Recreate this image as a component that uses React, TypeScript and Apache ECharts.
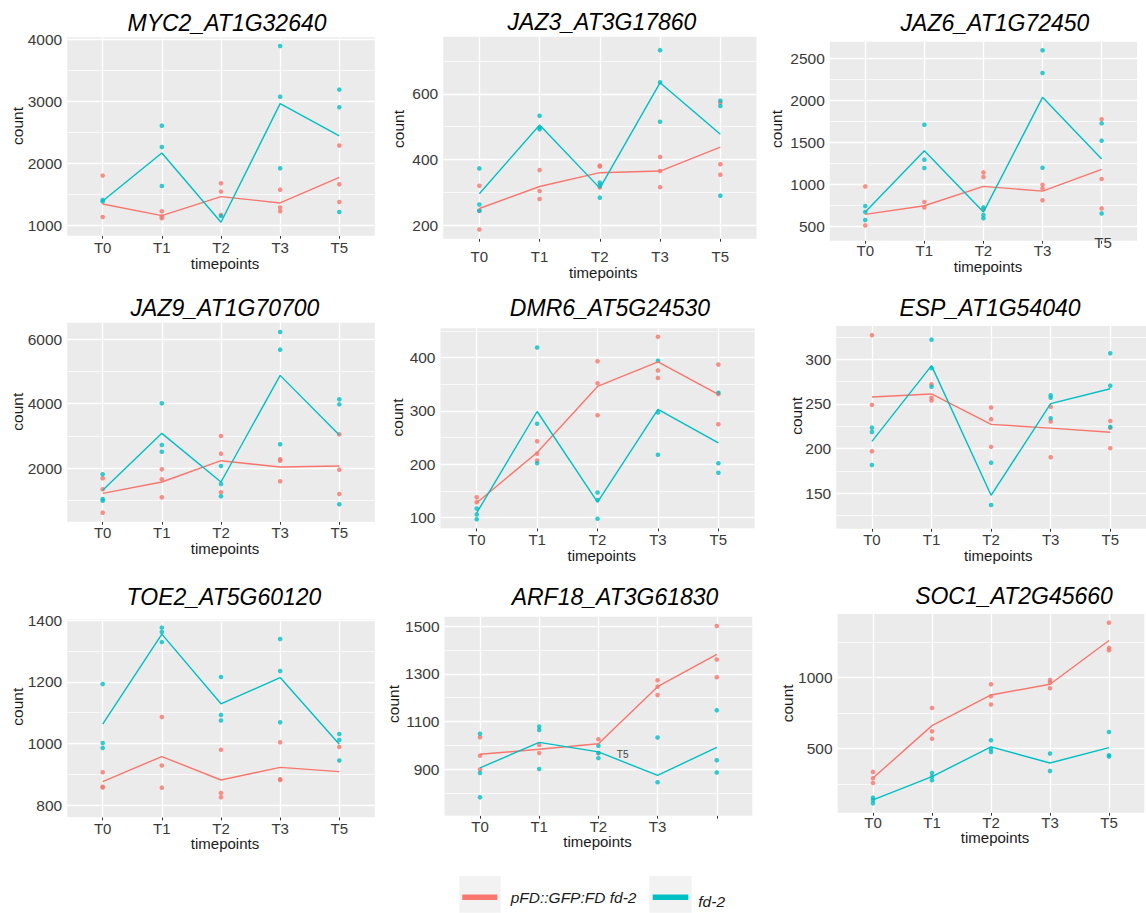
import React, { useEffect, useRef } from 'react';
import * as echarts from 'echarts';

const timepoints = ['T0', 'T1', 'T2', 'T3', 'T5'];
const groupNames = ['pFD::GFP:FD fd-2', 'fd-2'];
const RED = '#F8766D';
const TEAL = '#00BFC4';
const FONT = '"Liberation Sans", Arial, Helvetica, sans-serif';

// ---- MYC2 ----
const myc2RedPts = [[1801, 1134], [1226, 1113, 1140], [1677, 1543, 1167], [1575, 1285, 1226], [2285, 1661, 1376]];
const myc2BluePts = [[1409, 1382], [2607, 2263, 1634], [1150], [3892, 3075, 1919], [3188, 2903, 1215]];
const myc2RedLine = [1344, 1156, 1462, 1360, 1774];
const myc2BlueLine = [1392, 2167, 1048, 2962, 2441];
const myc2Ticks = [1000, 2000, 3000, 4000];
const myc2Minor = [1500, 2500, 3500];

// ---- JAZ3 ----
const jaz3RedPts = [[320, 244, 187], [368, 304, 280], [382, 379, 315], [408, 365, 316], [573, 386, 354]];
const jaz3BluePts = [[373, 263, 244], [533, 496, 492], [330, 322, 284], [733, 635, 515], [579, 563, 290]];
const jaz3RedLine = [251, 318, 360, 365, 438];
const jaz3BlueLine = [296, 505, 313, 634, 477];
const jaz3Ticks = [200, 400, 600];
const jaz3Minor = [300, 500, 700];

// ---- JAZ6 ----
const jaz6RedPts = [[974, 508], [787, 723], [1141, 1086, 700], [994, 950, 807], [1775, 1062, 711]];
const jaz6BluePts = [[739, 667, 572], [1711, 1293, 1193], [723, 631, 592], [2600, 2329, 1197], [1727, 1520, 651]];
const jaz6RedLine = [639, 743, 974, 918, 1177];
const jaz6BlueLine = [667, 1400, 667, 2038, 1301];
const jaz6Ticks = [500, 1000, 1500, 2000, 2500];
const jaz6Minor = [750, 1250, 1750, 2250];

// ---- JAZ9 ----
const jaz9RedPts = [[1691, 1351, 629], [1969, 1660, 1103], [3000, 2454, 1258], [2278, 2237, 1598], [3052, 1959, 1206]];
const jaz9BluePts = [[1814, 1052, 1000], [4010, 2722, 2515], [2072, 1515, 1134], [6216, 5670, 2742], [4134, 3979, 887]];
const jaz9RedLine = [1227, 1577, 2237, 2041, 2072];
const jaz9BlueLine = [1320, 3082, 1577, 4876, 3031];
const jaz9Ticks = [2000, 4000, 6000];
const jaz9Minor = [1000, 3000, 5000];

// ---- DMR6 ----
const dmr6RedPts = [[138, 129], [243, 220, 207], [393, 352, 292], [439, 376, 362], [387, 332, 275]];
const dmr6BluePts = [[117, 106, 97], [419, 276, 202], [147, 133, 98], [394, 297, 218], [334, 202, 184]];
const dmr6RedLine = [128, 222, 346, 392, 331];
const dmr6BlueLine = [109, 299, 129, 303, 240];
const dmr6Ticks = [100, 200, 300, 400];
const dmr6Minor = [150, 250, 350, 450];

// ---- ESP ----
const espRedPts = [[327, 249, 197], [272, 257, 254], [246, 233, 202], [247, 230.5, 190.5], [231, 223.5, 200.4]];
const espBluePts = [[223.5, 218.7, 181.7], [322, 290, 269.4], [184.3, 136.9], [259.7, 257, 234], [306.7, 270.5, 224.3]];
const espRedLine = [257.8, 261.2, 227.2, 223, 218.3];
const espBlueLine = [208.2, 292.9, 147.8, 250.4, 267];
const espTicks = [150, 200, 250, 300];
const espMinor = [125, 175, 225, 275, 325];

// ---- TOE2 ----
const toe2RedPts = [[907, 860, 858], [1086, 929, 857], [980, 840, 826], [1004, 884, 882], [989]];
const toe2BluePts = [[1193, 1002, 986], [1376, 1362, 1329], [1216, 1093, 1075], [1339, 1235, 1069], [1031, 1012, 945]];
const toe2RedLine = [877, 958, 882, 923, 909];
const toe2BlueLine = [1063, 1355, 1129, 1214, 998];
const toe2Ticks = [800, 1000, 1200, 1400];
const toe2Minor = [900, 1100, 1300];

// ---- ARF18 ----
const arf18RedPts = [[1034, 957, 899], [1002, 968], [1026, 968], [1273, 1246, 1211], [1500, 1360, 1286]];
const arf18BluePts = [[1049, 885, 783], [1079, 1065, 901], [999, 968, 947], [1033, 846], [1147, 938, 887]];
const arf18RedLine = [963, 984, 1007, 1246, 1381];
const arf18BlueLine = [906, 1013, 973, 875, 992];
const arf18Ticks = [900, 1100, 1300, 1500];
const arf18Minor = [800, 1000, 1200, 1400];

// ---- SOC1 ----
const soc1RedPts = [[336, 291, 258], [786, 622, 570], [953, 869, 810], [984, 965, 925], [1387, 1209, 1193]];
const soc1BluePts = [[155, 139, 115], [329, 303, 277], [559, 498, 477], [465, 343], [617, 453, 444]];
const soc1RedLine = [293, 662, 878, 953, 1261];
const soc1BlueLine = [139, 303, 512, 399, 507];
const soc1Ticks = [500, 1000];
const soc1Minor = [250, 750, 1250];

type Panel = {
  title: string;
  red: number[][];
  blue: number[][];
  redLine: number[];
  blueLine: number[];
  ticks: number[];
  minor: number[];
  yMin: number;
  yMax: number;
  hideLast?: boolean;
  box: { left: number; top: number; width: number; height: number };
  titlePos: [number, number];
  countPos: [number, number];
  tpPos: [number, number];
  labelMargin: number;
};

const panels: Panel[] = [
  { title: 'MYC2_AT1G32640', red: myc2RedPts, blue: myc2BluePts, redLine: myc2RedLine, blueLine: myc2BlueLine, ticks: myc2Ticks, minor: myc2Minor, yMin: 832, yMax: 4032,
    box: { left: 67.2, top: 37.3, width: 307.6, height: 198.4 }, titlePos: [227, 23], countPos: [17.5, 126], tpPos: [225, 263], labelMargin: 4.5 },
  { title: 'JAZ3_AT3G17860', red: jaz3RedPts, blue: jaz3BluePts, redLine: jaz3RedLine, blueLine: jaz3BlueLine, ticks: jaz3Ticks, minor: jaz3Minor, yMin: 159, yMax: 774,
    box: { left: 443.2, top: 36.7, width: 313.3, height: 202 }, titlePos: [602, 21.7], countPos: [398.7, 129], tpPos: [603.3, 272.3], labelMargin: 10.5 },
  { title: 'JAZ6_AT1G72450', red: jaz6RedPts, blue: jaz6BluePts, redLine: jaz6RedLine, blueLine: jaz6BlueLine, ticks: jaz6Ticks, minor: jaz6Minor, yMin: 325, yMax: 2703, hideLast: true,
    box: { left: 829.8, top: 41.7, width: 307.3, height: 199 }, titlePos: [995, 23.3], countPos: [776, 129], tpPos: [988, 266.3], labelMargin: 2 },
  { title: 'JAZ9_AT1G70700', red: jaz9RedPts, blue: jaz9BluePts, redLine: jaz9RedLine, blueLine: jaz9BlueLine, ticks: jaz9Ticks, minor: jaz9Minor, yMin: 350, yMax: 6505,
    box: { left: 67.2, top: 322.7, width: 307.6, height: 199 }, titlePos: [225, 308.3], countPos: [17.5, 411.7], tpPos: [225, 548], labelMargin: 3.5 },
  { title: 'DMR6_AT5G24530', red: dmr6RedPts, blue: dmr6BluePts, redLine: dmr6RedLine, blueLine: dmr6BlueLine, ticks: dmr6Ticks, minor: dmr6Minor, yMin: 80, yMax: 455,
    box: { left: 440.5, top: 328.3, width: 314.1, height: 200 }, titlePos: [610, 308.3], countPos: [397, 417.5], tpPos: [601.7, 555.6], labelMargin: 3.5 },
  { title: 'ESP_AT1G54040', red: espRedPts, blue: espBluePts, redLine: espRedLine, blueLine: espBlueLine, ticks: espTicks, minor: espMinor, yMin: 110.4, yMax: 337.3,
    box: { left: 836.2, top: 326, width: 316.7, height: 202.7 }, titlePos: [990, 308], countPos: [796.7, 415.8], tpPos: [998.3, 555.6], labelMargin: 3.1 },
  { title: 'TOE2_AT5G60120', red: toe2RedPts, blue: toe2BluePts, redLine: toe2RedLine, blueLine: toe2BlueLine, ticks: toe2Ticks, minor: toe2Minor, yMin: 761, yMax: 1403,
    box: { left: 67.2, top: 619.3, width: 307.6, height: 198 }, titlePos: [224, 597.3], countPos: [17, 706.7], tpPos: [225, 843.4], labelMargin: 3.2 },
  { title: 'ARF18_AT3G61830', red: arf18RedPts, blue: arf18BluePts, redLine: arf18RedLine, blueLine: arf18BlueLine, ticks: arf18Ticks, minor: arf18Minor, yMin: 706, yMax: 1539, hideLast: true,
    box: { left: 444.5, top: 616.7, width: 307.8, height: 199 }, titlePos: [615, 596.7], countPos: [393.8, 704], tpPos: [597.5, 841.6], labelMargin: 3.2 },
  { title: 'SOC1_AT2G45660', red: soc1RedPts, blue: soc1BluePts, redLine: soc1RedLine, blueLine: soc1BlueLine, ticks: soc1Ticks, minor: soc1Minor, yMin: 49, yMax: 1448,
    box: { left: 837.6, top: 614, width: 306.8, height: 198.7 }, titlePos: [1014, 596], countPos: [787, 703.3], tpPos: [995, 837.9], labelMargin: 2.1 },
];

const catIdx = timepoints.map((_, i) => i);
const TICK_COLOR = '#333333';
const LABEL_COLOR = '#3a3a3a';

function flatten(pts: number[][]) {
  const out: number[][] = [];
  pts.forEach((vals, ci) => vals.forEach((v) => out.push([ci, v])));
  return out;
}

function buildOption() {
  const grid: any[] = [];
  const xAxis: any[] = [];
  const yAxis: any[] = [];
  const series: any[] = [];
  const graphic: any[] = [];

  panels.forEach((p, i) => {
    grid.push({ ...p.box, show: true, backgroundColor: '#EBEBEB', borderWidth: 0, containLabel: false });
    xAxis.push({
      gridIndex: i, type: 'value', min: -0.6, max: 4.6,
      axisLine: { show: false }, splitLine: { show: false },
      axisTick: { show: true, customValues: catIdx, length: 3, lineStyle: { color: TICK_COLOR, width: 1 } },
      axisLabel: {
        customValues: catIdx, margin: p.labelMargin, fontSize: 15, color: LABEL_COLOR, fontFamily: FONT,
        formatter: (v: number) => { const k = Math.round(v); if (p.hideLast && k === 4) return ''; return timepoints[k] ?? ''; },
      },
    });
    yAxis.push({
      gridIndex: i, type: 'value', min: p.yMin, max: p.yMax,
      axisLine: { show: false }, splitLine: { show: false },
      axisTick: { show: true, customValues: p.ticks, length: 3, lineStyle: { color: TICK_COLOR, width: 1 } },
      axisLabel: { customValues: p.ticks, margin: 5, fontSize: 15.5, color: LABEL_COLOR, fontFamily: FONT, formatter: (v: number) => String(v) },
    });

    const gridLines: any[] = [];
    catIdx.forEach((c) => gridLines.push({ xAxis: c, lineStyle: { color: '#FFFFFF', width: 1.3, type: 'solid' } }));
    p.ticks.forEach((t) => gridLines.push({ yAxis: t, lineStyle: { color: '#FFFFFF', width: 1.3, type: 'solid' } }));
    p.minor.forEach((t) => gridLines.push({ yAxis: t, lineStyle: { color: '#FFFFFF', width: 0.7, type: 'solid' } }));

    series.push({
      name: groupNames[0], type: 'scatter', xAxisIndex: i, yAxisIndex: i, data: flatten(p.red),
      symbolSize: 4.6, itemStyle: { color: RED }, z: 3,
      markLine: { silent: true, z: 1, symbol: ['none', 'none'], label: { show: false }, animation: false, data: gridLines },
    });
    series.push({
      name: groupNames[1], type: 'scatter', xAxisIndex: i, yAxisIndex: i, data: flatten(p.blue),
      symbolSize: 4.6, itemStyle: { color: TEAL }, z: 3,
    });
    series.push({
      name: groupNames[0], type: 'line', xAxisIndex: i, yAxisIndex: i,
      data: p.redLine.map((v, ci) => [ci, v]), symbol: 'none', showSymbol: false,
      lineStyle: { color: RED, width: 1.4 }, itemStyle: { color: RED }, z: 4,
    });
    series.push({
      name: groupNames[1], type: 'line', xAxisIndex: i, yAxisIndex: i,
      data: p.blueLine.map((v, ci) => [ci, v]), symbol: 'none', showSymbol: false,
      lineStyle: { color: TEAL, width: 1.4 }, itemStyle: { color: TEAL }, z: 4,
    });

    graphic.push({
      type: 'text', x: p.titlePos[0], y: p.titlePos[1], z: 10,
      style: { text: p.title, font: `italic 23px ${FONT}`, fill: '#000000', textAlign: 'center', textVerticalAlign: 'middle' },
    });
    graphic.push({
      type: 'text', x: p.countPos[0], y: p.countPos[1], rotation: Math.PI / 2, z: 10,
      style: { text: 'count', font: `15.5px ${FONT}`, fill: '#1a1a1a', textAlign: 'center', textVerticalAlign: 'middle' },
    });
    graphic.push({
      type: 'text', x: p.tpPos[0], y: p.tpPos[1], z: 10,
      style: { text: 'timepoints', font: `15px ${FONT}`, fill: '#1a1a1a', textAlign: 'center', textVerticalAlign: 'middle' },
    });
  });

  // displaced T5 labels (as in the reference)
  graphic.push({
    type: 'text', x: 1103, y: 242.3, z: 10,
    style: { text: 'T5', font: `15px ${FONT}`, fill: LABEL_COLOR, textAlign: 'center', textVerticalAlign: 'middle' },
  });
  graphic.push({
    type: 'text', x: 622.7, y: 754.3, z: 10,
    style: { text: 'T5', font: `10px ${FONT}`, fill: '#444444', textAlign: 'center', textVerticalAlign: 'middle' },
  });

  // legend
  const legendKeys = [
    { name: groupNames[0], color: RED, boxX: 459.3, boxW: 41.4, x1: 462.3, x2: 497.3, textX: 510.7, textY: 897.7 },
    { name: groupNames[1], color: TEAL, boxX: 649.3, boxW: 42.4, x1: 652.7, x2: 688.3, textX: 698.3, textY: 901.7 },
  ];
  legendKeys.forEach((k) => {
    graphic.push({ type: 'rect', shape: { x: k.boxX, y: 876, width: k.boxW, height: 36.7 }, style: { fill: '#F2F2F2' }, z: 10 });
    graphic.push({ type: 'line', shape: { x1: k.x1, y1: 897.3, x2: k.x2, y2: 897.3 }, style: { stroke: k.color, lineWidth: 5.5 }, z: 11 });
    graphic.push({
      type: 'text', x: k.textX, y: k.textY, z: 11,
      style: { text: k.name, font: `italic 15.5px ${FONT}`, fill: '#1a1a1a', textAlign: 'left', textVerticalAlign: 'middle' },
    });
  });

  return {
    animation: false,
    backgroundColor: '#FFFFFF',
    grid, xAxis, yAxis, series, graphic,
  };
}

export default function App() {
  const ref = useRef<HTMLDivElement>(null);
  useEffect(() => {
    if (!ref.current) return;
    const chart = echarts.init(ref.current, undefined, { renderer: 'svg' });
    chart.setOption(buildOption() as any);
    return () => chart.dispose();
  }, []);
  return (
    <div
      ref={ref}
      style={{ position: 'absolute', left: 0, top: 0, width: 1146, height: 913, background: '#FFFFFF' }}
    />
  );
}
